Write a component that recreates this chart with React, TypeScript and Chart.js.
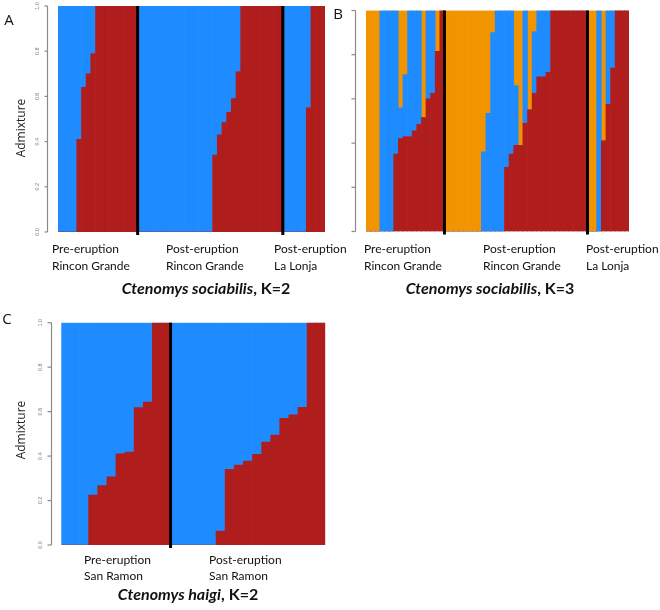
import { useEffect, useRef } from 'react';
import { Chart, registerables } from 'chart.js';
Chart.register(...registerables);

const RED = '#B01D1D';
const BLUE = '#1E8CFF';
const ORANGE = '#F29400';

const yTickValues = [0, 0.2, 0.4, 0.6, 0.8, 1.0];
const yTickLabels = ['0.0', '0.2', '0.4', '0.6', '0.8', '1.0'];

// ---- Panel A: Ctenomys sociabilis, K=2 ----
const aPreRed = [0, 0, 0, 0, 0.41, 0.64, 0.7, 0.79, 1, 1, 1, 1, 1, 1, 1, 1, 1];
const aPreBlue = [1, 1, 1, 1, 0.59, 0.36, 0.3, 0.21, 0, 0, 0, 0, 0, 0, 0, 0, 0];
const aPostRed = [0, 0, 0, 0, 0, 0, 0, 0, 0, 0, 0, 0, 0, 0, 0, 0, 0.34, 0.43, 0.485, 0.53, 0.59, 0.71, 1, 1, 1, 1, 1, 1, 1, 1, 1];
const aPostBlue = [1, 1, 1, 1, 1, 1, 1, 1, 1, 1, 1, 1, 1, 1, 1, 1, 0.66, 0.57, 0.515, 0.47, 0.41, 0.29, 0, 0, 0, 0, 0, 0, 0, 0, 0];
const aLonjaRed = [0, 0, 0, 0, 0, 0.55, 1, 1, 1];
const aLonjaBlue = [1, 1, 1, 1, 1, 0.45, 0, 0, 0];

// ---- Panel B: Ctenomys sociabilis, K=3 ----
const bPreRed = [0, 0, 0, 0, 0, 0, 0.35, 0.42, 0.43, 0.43, 0.455, 0.485, 0.515, 0.6, 0.625, 0.815, 1];
const bPreBlue = [0, 0, 0, 1, 1, 1, 0.65, 0.14, 0.28, 0.57, 0.545, 0.515, 0, 0.4, 0.375, 0, 0];
const bPreOrange = [1, 1, 1, 0, 0, 0, 0, 0.44, 0.29, 0, 0, 0, 0.485, 0, 0, 0.185, 0];
const bPostRed = [0, 0, 0, 0, 0, 0, 0, 0, 0, 0, 0, 0, 0, 0.29, 0.35, 0.39, 0.39, 0.49, 0.55, 0.625, 0.7, 0.7, 0.72, 1, 1, 1, 1, 1, 1, 1, 1];
const bPostBlue = [0, 0, 0, 0, 0, 0, 0, 0, 0.36, 0.535, 0.9, 1, 1, 0.71, 0.65, 0.27, 0, 0.51, 0, 0.28, 0.3, 0.3, 0.28, 0, 0, 0, 0, 0, 0, 0, 0];
const bPostOrange = [1, 1, 1, 1, 1, 1, 1, 1, 0.64, 0.465, 0.1, 0, 0, 0, 0, 0.34, 0.61, 0, 0.45, 0.095, 0, 0, 0, 0, 0, 0, 0, 0, 0, 0, 0];
const bLonjaRed = [0, 0, 0, 0.41, 0.575, 0.74, 1, 1, 1];
const bLonjaBlue = [0, 0, 1, 0, 0.425, 0.26, 0, 0, 0];
const bLonjaOrange = [1, 1, 0, 0.59, 0, 0, 0, 0, 0];

// ---- Panel C: Ctenomys haigi, K=2 ----
const cPreRed = [0, 0, 0, 0.225, 0.267, 0.307, 0.41, 0.418, 0.618, 0.643, 1, 1];
const cPreBlue = [1, 1, 1, 0.775, 0.733, 0.693, 0.59, 0.582, 0.382, 0.357, 0, 0];
const cPostRed = [0, 0, 0, 0, 0, 0.063, 0.34, 0.36, 0.378, 0.408, 0.463, 0.495, 0.57, 0.586, 0.619, 1, 1];
const cPostBlue = [1, 1, 1, 1, 1, 0.937, 0.66, 0.64, 0.622, 0.592, 0.537, 0.505, 0.43, 0.414, 0.381, 0, 0];

const groupLabelsAB: [string, string][] = [
  ['Pre-eruption', 'Rincon Grande'],
  ['Post-eruption', 'Rincon Grande'],
  ['Post-eruption', 'La Lonja'],
];
const groupLabelsC: [string, string][] = [
  ['Pre-eruption', 'San Ramon'],
  ['Post-eruption', 'San Ramon'],
];

type Group = { red: number[]; blue: number[]; orange?: number[] };
type Panel = {
  groups: Group[];
  labels: [string, string][];
  labelXs: number[];
  labelYs: [number, number];
  pad: { left: number; top: number; right: number; bottom: number };
  axisX: number;
  tickLen: number;
  tickLabelX: number | null;
  letter: { t: string; x: number; y: number };
  ylab: { x: number; y: number } | null;
  title: { it: string; rest: string; x: number; y: number };
};

const panels: Panel[] = [
  {
    groups: [
      { red: aPreRed, blue: aPreBlue },
      { red: aPostRed, blue: aPostBlue },
      { red: aLonjaRed, blue: aLonjaBlue },
    ],
    labels: groupLabelsAB,
    labelXs: [52, 166, 274],
    labelYs: [249, 266],
    pad: { left: 58, top: 6, right: 335, bottom: 378 },
    axisX: 47.5,
    tickLen: 3,
    tickLabelX: 37,
    letter: { t: 'A', x: 9, y: 21 },
    ylab: { x: 22, y: 128 },
    title: { it: 'Ctenomys sociabilis', rest: ', K=2', x: 206, y: 289 },
  },
  {
    groups: [
      { red: bPreRed, blue: bPreBlue, orange: bPreOrange },
      { red: bPostRed, blue: bPostBlue, orange: bPostOrange },
      { red: bLonjaRed, blue: bLonjaBlue, orange: bLonjaOrange },
    ],
    labels: groupLabelsAB,
    labelXs: [364, 483, 586],
    labelYs: [249, 266],
    pad: { left: 366, top: 10.5, right: 31, bottom: 378.5 },
    axisX: 355.5,
    tickLen: 4,
    tickLabelX: null,
    letter: { t: 'B', x: 338, y: 15 },
    ylab: null,
    title: { it: 'Ctenomys sociabilis', rest: ', K=3', x: 490, y: 289 },
  },
  {
    groups: [
      { red: cPreRed, blue: cPreBlue },
      { red: cPostRed, blue: cPostBlue },
    ],
    labels: groupLabelsC,
    labelXs: [84, 209],
    labelYs: [560, 576],
    pad: { left: 61.3, top: 322.7, right: 334.7, bottom: 65 },
    axisX: 51.5,
    tickLen: 4,
    tickLabelX: 40,
    letter: { t: 'C', x: 7, y: 320 },
    ylab: { x: 22, y: 430 },
    title: { it: 'Ctenomys haigi', rest: ', K=2', x: 188, y: 595 },
  },
];

function makeChart(canvas: HTMLCanvasElement, p: Panel) {
  const red = p.groups.flatMap((g) => g.red);
  const blue = p.groups.flatMap((g) => g.blue);
  const hasOrange = p.groups.some((g) => g.orange);
  const orange = hasOrange ? p.groups.flatMap((g) => g.orange || []) : [];
  const labels = red.map((_, i) => String(i + 1));
  const bounds: number[] = [];
  let acc = 0;
  p.groups.forEach((g, i) => {
    acc += g.red.length;
    if (i < p.groups.length - 1) bounds.push(acc);
  });

  const datasets: any[] = [
    { label: 'red', data: red, backgroundColor: RED, borderWidth: 0 },
    { label: 'blue', data: blue, backgroundColor: BLUE, borderWidth: 0 },
  ];
  if (hasOrange) datasets.push({ label: 'orange', data: orange, backgroundColor: ORANGE, borderWidth: 0 });

  const deco = {
    id: 'deco',
    afterDraw(chart: any) {
      const ctx: CanvasRenderingContext2D = chart.ctx;
      const xs = chart.scales.x;
      const ys = chart.scales.y;
      const ca = chart.chartArea;
      ctx.save();
      // separators
      ctx.strokeStyle = '#000';
      ctx.lineWidth = 3;
      bounds.forEach((b) => {
        const x = (xs.getPixelForValue(b - 1) + xs.getPixelForValue(b)) / 2;
        ctx.beginPath();
        ctx.moveTo(x, ca.top);
        ctx.lineTo(x, ca.bottom + 3);
        ctx.stroke();
      });
      // y axis
      ctx.strokeStyle = '#8a8a8a';
      ctx.lineWidth = 1.2;
      ctx.beginPath();
      ctx.moveTo(p.axisX, ys.getPixelForValue(0));
      ctx.lineTo(p.axisX, ys.getPixelForValue(1));
      ctx.stroke();
      yTickValues.forEach((v, i) => {
        const y = ys.getPixelForValue(v);
        ctx.beginPath();
        ctx.moveTo(p.axisX - p.tickLen, y);
        ctx.lineTo(p.axisX, y);
        ctx.stroke();
        if (p.tickLabelX !== null) {
          ctx.save();
          ctx.translate(p.tickLabelX, y);
          ctx.rotate(-Math.PI / 2);
          ctx.fillStyle = '#7a7a7a';
          ctx.font = '5.5px "Liberation Sans"';
          ctx.textAlign = 'center';
          ctx.textBaseline = 'middle';
          ctx.fillText(yTickLabels[i], 0, 0);
          ctx.restore();
        }
      });
      // y label
      if (p.ylab) {
        ctx.save();
        ctx.translate(p.ylab.x, p.ylab.y);
        ctx.rotate(-Math.PI / 2);
        ctx.fillStyle = '#222';
        ctx.font = '12px "Open Sans"';
        ctx.textAlign = 'center';
        ctx.textBaseline = 'middle';
        ctx.fillText('Admixture', 0, 0);
        ctx.restore();
      }
      // panel letter
      ctx.fillStyle = '#111';
      ctx.font = '15px "Open Sans"';
      ctx.textAlign = 'center';
      ctx.textBaseline = 'middle';
      ctx.fillText(p.letter.t, p.letter.x, p.letter.y);
      // group labels
      ctx.font = '12px Lato';
      ctx.textAlign = 'left';
      ctx.fillStyle = '#111';
      p.labels.forEach((l, i) => {
        ctx.fillText(l[0], p.labelXs[i], p.labelYs[0]);
        ctx.fillText(l[1], p.labelXs[i], p.labelYs[1]);
      });
      // title
      const fIt = 'italic bold 16px Lato';
      const fB = 'bold 16px Lato';
      ctx.font = fIt;
      const w1 = ctx.measureText(p.title.it).width;
      ctx.font = fB;
      const w2 = ctx.measureText(p.title.rest).width;
      const x0 = p.title.x - (w1 + w2) / 2;
      ctx.font = fIt;
      ctx.fillText(p.title.it, x0, p.title.y);
      ctx.font = fB;
      ctx.fillText(p.title.rest, x0 + w1, p.title.y);
      ctx.restore();
    },
  };

  return new Chart(canvas, {
    type: 'bar',
    data: { labels, datasets },
    options: {
      animation: false,
      responsive: false,
      maintainAspectRatio: false,
      devicePixelRatio: 1,
      layout: { padding: p.pad },
      datasets: { bar: { categoryPercentage: 1, barPercentage: 1 } },
      plugins: { legend: { display: false }, tooltip: { enabled: false }, title: { display: false } },
      scales: {
        x: { stacked: true, display: false },
        y: { stacked: true, display: false, min: 0, max: 1 },
      },
    },
    plugins: [deco],
  } as any);
}

function PanelCanvas({ p }: { p: Panel }) {
  const ref = useRef<HTMLCanvasElement>(null);
  useEffect(() => {
    if (!ref.current) return;
    const c = makeChart(ref.current, p);
    return () => c.destroy();
  }, [p]);
  return (
    <canvas
      ref={ref}
      width={660}
      height={610}
      style={{ position: 'absolute', left: 0, top: 0, width: 660, height: 610 }}
    />
  );
}

export default function App() {
  return (
    <div style={{ position: 'absolute', left: 0, top: 0, width: 660, height: 610, background: '#fff' }}>
      {panels.map((p, i) => (
        <PanelCanvas key={i} p={p} />
      ))}
    </div>
  );
}
